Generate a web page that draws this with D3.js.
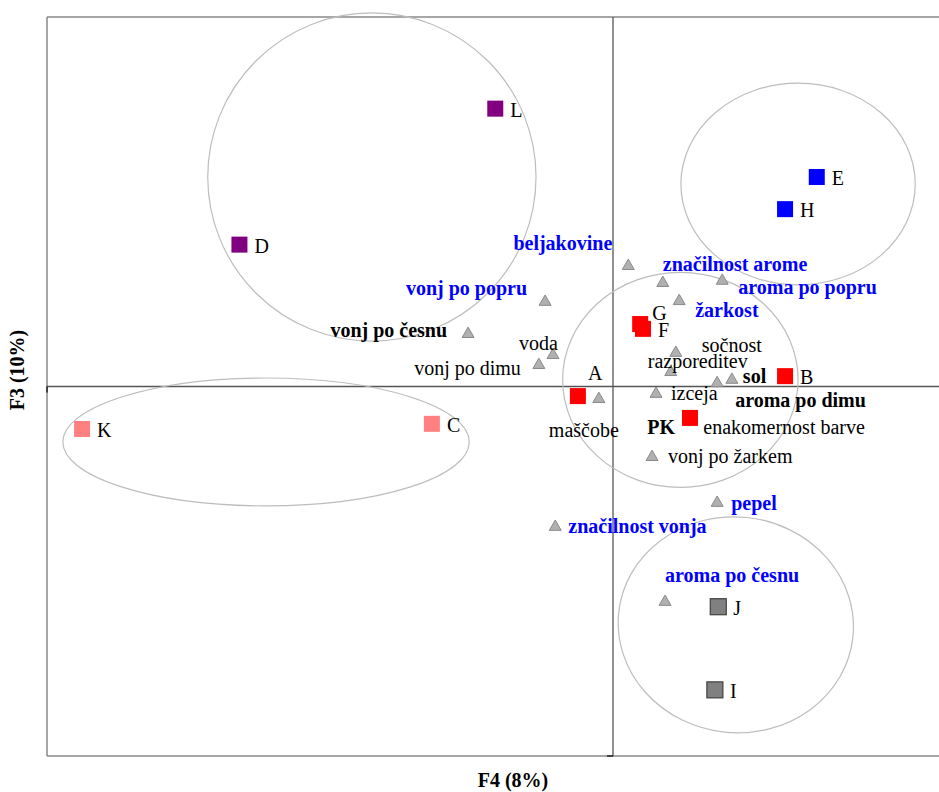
<!DOCTYPE html>
<html>
<head>
<meta charset="utf-8">
<script src="https://cdn.jsdelivr.net/npm/d3@7"></script>
<style>
  body { margin: 0; background: #fff; }
  svg text { font-family: "Liberation Serif", "Times New Roman", serif; font-size: 20px; }
</style>
</head>
<body>
<div class="plot"></div>
<script>
// F4 vs F3 map: samples (squares), attributes (triangles), groups (ellipses)

// samples
var sampleNames = ["L", "D", "E", "H", "G", "F", "B", "A", "PK", "C", "K", "J", "I"];
var sampleF4 = [-0.208, -0.660, 0.360, 0.304, 0.048, 0.053, 0.304, -0.062, 0.136, -0.320, -0.938, 0.186, 0.180];
var sampleF3 = [0.752, 0.384, 0.567, 0.480, 0.169, 0.156, 0.028, -0.026, -0.085, -0.101, -0.115, -0.596, -0.821];
var sampleGroup = ["g1", "g1", "g2", "g2", "g3", "g3", "g3", "g3", "g3", "g4", "g4", "g5", "g5"];

// attributes
var attrNames = ["beljakovine", "značilnost arome", "aroma po popru", "žarkost", "sočnost",
  "razporeditev", "sol", "aroma po dimu", "izceja", "enakomernost barve", "vonj po žarkem",
  "maščobe", "voda", "vonj po dimu", "vonj po česnu", "vonj po popru", "značilnost vonja",
  "pepel", "aroma po česnu"];
var attrF4 = [0.027, 0.088, 0.193, 0.117, 0.111, 0.102, 0.210, 0.184, 0.076, 0.133, 0.069,
  -0.025, -0.106, -0.131, -0.256, -0.120, -0.102, 0.184, 0.092];
var attrF3 = [0.326, 0.280, 0.286, 0.231, 0.091, 0.039, 0.018, 0.009, -0.020, -0.091, -0.191,
  -0.034, 0.085, 0.058, 0.142, 0.229, -0.380, -0.315, -0.583];
var attrType = ["b", "b", "b", "b", "n", "n", "k", "k", "n", "n", "n", "n", "n", "n", "k", "b", "b", "b", "b"];

// group ellipses (centre and radii in F4/F3 units)
var ellipseCx = [-0.426, 0.327, 0.119, -0.613, 0.217];
var ellipseCy = [0.567, 0.548, 0.018, -0.150, -0.645];
var ellipseRx = [0.290, 0.207, 0.208, 0.359, 0.208];
var ellipseRy = [0.444, 0.273, 0.291, 0.173, 0.292];
var ellipseRot = [0, 0, 0, 0, 6];

var xTitle = "F4 (8%)";
var yTitle = "F3 (10%)";

// set up
var svgWidth = 939;
var svgHeight = 792;
var plot = { left: 47, top: 17, bottom: 756, right: 1179 };

var svg = d3.select(".plot")
  .append("svg")
  .attr("width", svgWidth)
  .attr("height", svgHeight);

var x = d3.scaleLinear().domain([-1, 1]).range([plot.left, plot.right]);
var y = d3.scaleLinear().domain([-1, 1]).range([plot.bottom, plot.top]);

var groupColor = { g1: "#800080", g2: "#0000ff", g3: "#ff0000", g4: "#ff8080", g5: "#808080" };
var groupStroke = { g1: "none", g2: "none", g3: "none", g4: "none", g5: "#404040" };

// frame
svg.append("line").attr("x1", plot.left).attr("x2", svgWidth)
  .attr("y1", plot.top).attr("y2", plot.top)
  .attr("stroke", "#888").attr("stroke-width", 1.5);
svg.append("line").attr("x1", plot.left).attr("x2", svgWidth)
  .attr("y1", plot.bottom).attr("y2", plot.bottom)
  .attr("stroke", "#888").attr("stroke-width", 1.5);
svg.append("line").attr("x1", plot.left).attr("x2", plot.left)
  .attr("y1", plot.top).attr("y2", plot.bottom)
  .attr("stroke", "#888").attr("stroke-width", 1.5);

// zero axes
svg.append("line").attr("x1", x(0)).attr("x2", x(0))
  .attr("y1", plot.top).attr("y2", plot.bottom)
  .attr("stroke", "#555").attr("stroke-width", 1.3);
svg.append("line").attr("x1", plot.left).attr("x2", svgWidth)
  .attr("y1", y(0)).attr("y2", y(0))
  .attr("stroke", "#555").attr("stroke-width", 1.3);
// small zero ticks
svg.append("line").attr("x1", x(0) - 6).attr("x2", x(0))
  .attr("y1", plot.bottom).attr("y2", plot.bottom)
  .attr("stroke", "#222").attr("stroke-width", 1.5);
svg.append("line").attr("x1", plot.left).attr("x2", plot.left)
  .attr("y1", y(0)).attr("y2", y(0) + 6)
  .attr("stroke", "#222").attr("stroke-width", 1.5);

// ellipses
var ellipses = ellipseCx.map((cx, i) => ({ cx: cx, cy: ellipseCy[i], rx: ellipseRx[i], ry: ellipseRy[i], rot: ellipseRot[i] }));
svg.selectAll("ellipse.grp")
  .data(ellipses)
  .enter()
  .append("ellipse")
  .attr("class", "grp")
  .attr("transform", d => `translate(${x(d.cx)}, ${y(d.cy)}) rotate(${d.rot})`)
  .attr("rx", d => x(d.rx) - x(0))
  .attr("ry", d => y(0) - y(d.ry))
  .attr("fill", "none")
  .attr("stroke", "#bdbdbd")
  .attr("stroke-width", 1.2);

// attributes
var attrs = attrNames.map((n, i) => ({ name: n, f4: attrF4[i], f3: attrF3[i], type: attrType[i] }));

// label placement around each triangle: [dx, dy, anchor]
var attrLabelPos = {
  "beljakovine": [-16, -16, "end"],
  "značilnost arome": [0, -12, "start"],
  "aroma po popru": [16, 13, "start"],
  "žarkost": [16, 16, "start"],
  "sočnost": [26, -1, "start"],
  "razporeditev": [-23, -4, "start"],
  "sol": [11, 3, "start"],
  "aroma po dimu": [18, 24, "start"],
  "izceja": [15, 6, "start"],
  "enakomernost barve": [15, 14, "start"],
  "vonj po žarkem": [16, 6, "start"],
  "maščobe": [-15, 38, "middle"],
  "voda": [5, -5, "end"],
  "vonj po dimu": [-18, 10, "end"],
  "vonj po česnu": [-21, 3, "end"],
  "vonj po popru": [-18, -7, "end"],
  "značilnost vonja": [13, 6, "start"],
  "pepel": [14, 7, "start"],
  "aroma po česnu": [0, -20, "start"]
};

var triangle = d3.symbol().type(d3.symbolTriangle).size(62);

svg.selectAll("path.attr")
  .data(attrs)
  .enter()
  .append("path")
  .attr("class", "attr")
  .attr("d", triangle)
  .attr("transform", d => `translate(${x(d.f4)}, ${y(d.f3)})`)
  .attr("fill", "#b0b0b0")
  .attr("stroke", "#8a8a8a")
  .attr("stroke-width", 1);

svg.selectAll("text.attrLabel")
  .data(attrs)
  .enter()
  .append("text")
  .attr("class", "attrLabel")
  .attr("x", d => x(d.f4) + attrLabelPos[d.name][0])
  .attr("y", d => y(d.f3) + attrLabelPos[d.name][1])
  .attr("text-anchor", d => attrLabelPos[d.name][2])
  .style("font-weight", d => d.type == "n" ? "normal" : "bold")
  .style("fill", d => d.type == "b" ? "#0000ff" : "#000")
  .text(d => d.name);

// samples
var samples = sampleNames.map((n, i) => ({ name: n, f4: sampleF4[i], f3: sampleF3[i], group: sampleGroup[i] }));

var sampleLabelPos = {
  "G": [12, -4, "start"],
  "A": [10, -16, "start"],
  "PK": [-15, 16, "end"]
};

var sq = 16;
svg.selectAll("rect.sample")
  .data(samples)
  .enter()
  .append("rect")
  .attr("class", "sample")
  .attr("x", d => x(d.f4) - sq / 2)
  .attr("y", d => y(d.f3) - sq / 2)
  .attr("width", sq)
  .attr("height", sq)
  .attr("fill", d => groupColor[d.group])
  .attr("stroke", d => groupStroke[d.group])
  .attr("stroke-width", 1.2);

svg.selectAll("text.sampleLabel")
  .data(samples)
  .enter()
  .append("text")
  .attr("class", "sampleLabel")
  .attr("x", d => x(d.f4) + (sampleLabelPos[d.name] || [15])[0])
  .attr("y", d => y(d.f3) + (sampleLabelPos[d.name] || [15, 8])[1])
  .attr("text-anchor", d => (sampleLabelPos[d.name] || [0, 0, "start"])[2])
  .style("font-weight", d => d.name == "PK" ? "bold" : "normal")
  .style("fill", "#000")
  .text(d => d.name);

// axis titles
svg.append("text")
  .attr("x", 513)
  .attr("y", 787)
  .attr("text-anchor", "middle")
  .style("font-weight", "bold")
  .text(xTitle);

svg.append("text")
  .attr("transform", "rotate(-90)")
  .attr("x", -370)
  .attr("y", 24)
  .attr("text-anchor", "middle")
  .style("font-weight", "bold")
  .text(yTitle);
</script>
</body>
</html>
